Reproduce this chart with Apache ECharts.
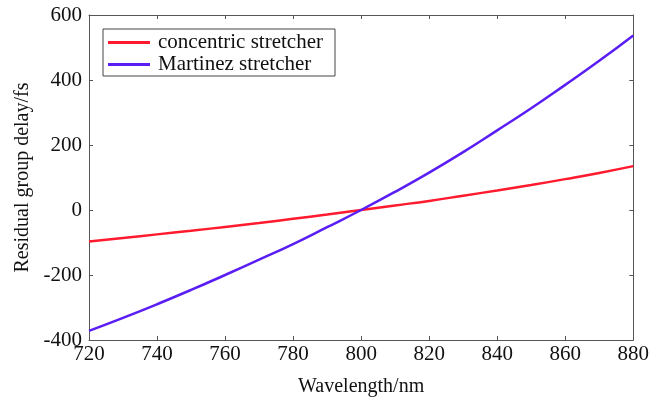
<!DOCTYPE html>
<html>
<head>
<meta charset="utf-8">
<script src="https://cdn.jsdelivr.net/npm/echarts@6/dist/echarts.min.js"></script>
<style>
  html, body { margin: 0; padding: 0; background: #fff; }
  #chart { width: 652px; height: 404px; }
</style>
</head>
<body>
<div id="chart"></div>
<script>
var wavelength = [720, 730, 740, 750, 760, 770, 780, 790, 800, 810, 820, 830, 840, 850, 860, 870, 880]
var concentric = [-97, -86, -75, -64, -52, -40, -27, -14, 0, 14, 28, 44, 60, 77, 95, 114, 135]
var martinez = [-372, -332, -290, -246, -200, -153, -105, -53, 0, 56, 115, 178, 245, 313, 385, 459, 537]

function pairs(ys) {
  return wavelength.map(function (x, i) { return [x, ys[i]] })
}

var font = 'Liberation Serif'
var axisColor = '#555'

var myChart = echarts.init(document.getElementById('chart'))
myChart.setOption({
  animation: false,
  textStyle: { fontFamily: font },
  grid: { left: 89, right: 13, top: 15, bottom: 64 },
  legend: {
    orient: 'vertical',
    left: 103,
    top: 29,
    padding: [3, 12, 1, 5],
    itemGap: 1,
    itemWidth: 42,
    itemHeight: 3,
    icon: 'rect',
    borderColor: '#444',
    borderWidth: 1,
    textStyle: { fontFamily: font, fontSize: 21, lineHeight: 20, color: '#111', padding: [0, 0, 0, 3] },
    data: ['concentric stretcher', 'Martinez stretcher']
  },
  xAxis: [
    {
      type: 'value',
      min: 720,
      max: 880,
      interval: 20,
      name: 'Wavelength/nm',
      nameLocation: 'middle',
      nameGap: 37,
      nameTextStyle: { fontFamily: font, fontSize: 20, color: '#111' },
      axisLine: { onZero: false, lineStyle: { color: axisColor } },
      axisTick: { inside: true, length: 4, lineStyle: { color: axisColor } },
      axisLabel: { fontFamily: font, fontSize: 21, color: '#111', margin: 4 },
      splitLine: { show: false }
    },
    {
      type: 'value',
      position: 'top',
      min: 720,
      max: 880,
      interval: 20,
      axisLine: { show: true, onZero: false, lineStyle: { color: axisColor } },
      axisTick: { inside: true, length: 4, lineStyle: { color: axisColor } },
      axisLabel: { show: false },
      splitLine: { show: false }
    }
  ],
  yAxis: [
    {
      type: 'value',
      min: -400,
      max: 600,
      interval: 200,
      name: 'Residual group delay/fs',
      nameLocation: 'middle',
      nameGap: 56,
      nameTextStyle: { fontFamily: font, fontSize: 20, color: '#111' },
      axisLine: { show: true, onZero: false, lineStyle: { color: axisColor } },
      axisTick: { show: true, inside: true, length: 4, lineStyle: { color: axisColor } },
      axisLabel: { fontFamily: font, fontSize: 21, color: '#111', margin: 7 },
      splitLine: { show: false }
    },
    {
      type: 'value',
      position: 'right',
      min: -400,
      max: 600,
      interval: 200,
      axisLine: { show: true, onZero: false, lineStyle: { color: axisColor } },
      axisTick: { show: true, inside: true, length: 4, lineStyle: { color: axisColor } },
      axisLabel: { show: false },
      splitLine: { show: false }
    }
  ],
  series: [
    {
      name: 'concentric stretcher',
      type: 'line',
      data: pairs(concentric),
      smooth: true,
      symbol: 'none',
      itemStyle: { color: '#ff1a2e' },
      lineStyle: { color: '#ff1a2e', width: 2.5 }
    },
    {
      name: 'Martinez stretcher',
      type: 'line',
      data: pairs(martinez),
      smooth: true,
      symbol: 'none',
      itemStyle: { color: '#5a1ef5' },
      lineStyle: { color: '#5a1ef5', width: 2.5 }
    }
  ]
})
</script>
</body>
</html>
